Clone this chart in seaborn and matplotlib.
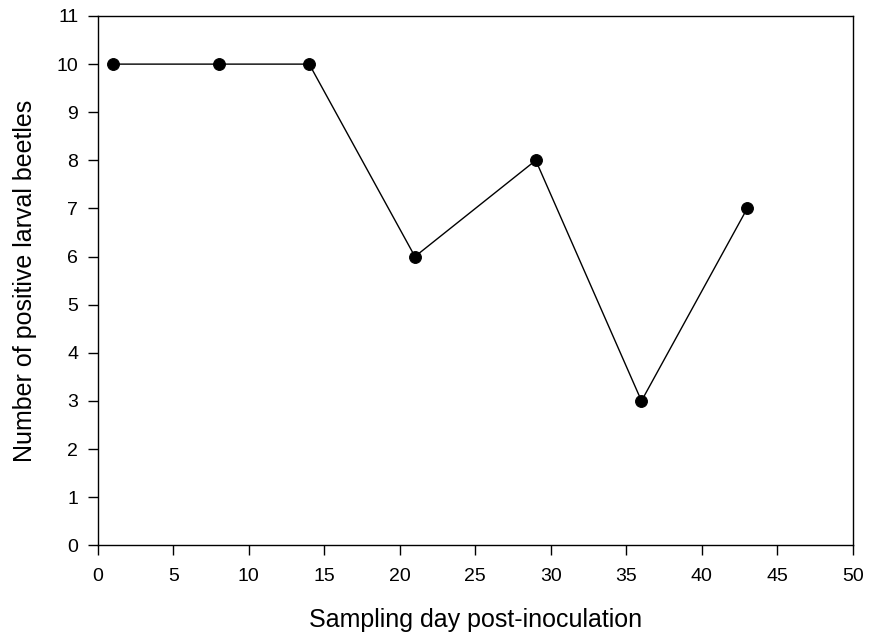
import matplotlib
matplotlib.use("Agg")
import matplotlib.pyplot as plt
import seaborn as sns
import pandas as pd

days = [1, 8, 14, 21, 29, 36, 43]
positives = [10, 10, 10, 6, 8, 3, 7]
x_ticks = [0, 5, 10, 15, 20, 25, 30, 35, 40, 45, 50]
y_ticks = [0, 1, 2, 3, 4, 5, 6, 7, 8, 9, 10, 11]

sns.set_style("ticks")
plt.rcParams['font.family'] = ['Liberation Sans', 'DejaVu Sans']
plt.rcParams['text.color'] = 'black'
plt.rcParams['axes.labelcolor'] = 'black'

df = pd.DataFrame({"day": days, "pos": positives})

fig = plt.figure(figsize=(8.73, 6.40), dpi=100)
ax = fig.add_axes([0.112, 0.148, 0.865, 0.827])
sns.lineplot(data=df, x="day", y="pos", ax=ax, color="black", linewidth=1,
             marker="o", markersize=8.5, markeredgecolor="black", markerfacecolor="black")
ax.set_xlim(0, 50)
ax.set_ylim(0, 11)
ax.set_xticks(x_ticks)
ax.set_yticks(y_ticks)
for s in ax.spines.values():
    s.set_visible(True)
    s.set_linewidth(1)
    s.set_color("black")
ax.tick_params(direction="out", length=7, width=1, labelsize=14, colors="black")
ax.tick_params(axis="x", pad=9)
ax.tick_params(axis="y", pad=7)
ax.set_xlabel("Sampling day post-inoculation", fontsize=18, labelpad=17)
ax.set_ylabel("Number of positive larval beetles", fontsize=18, labelpad=14)
fig.savefig("out.png", dpi=100)
